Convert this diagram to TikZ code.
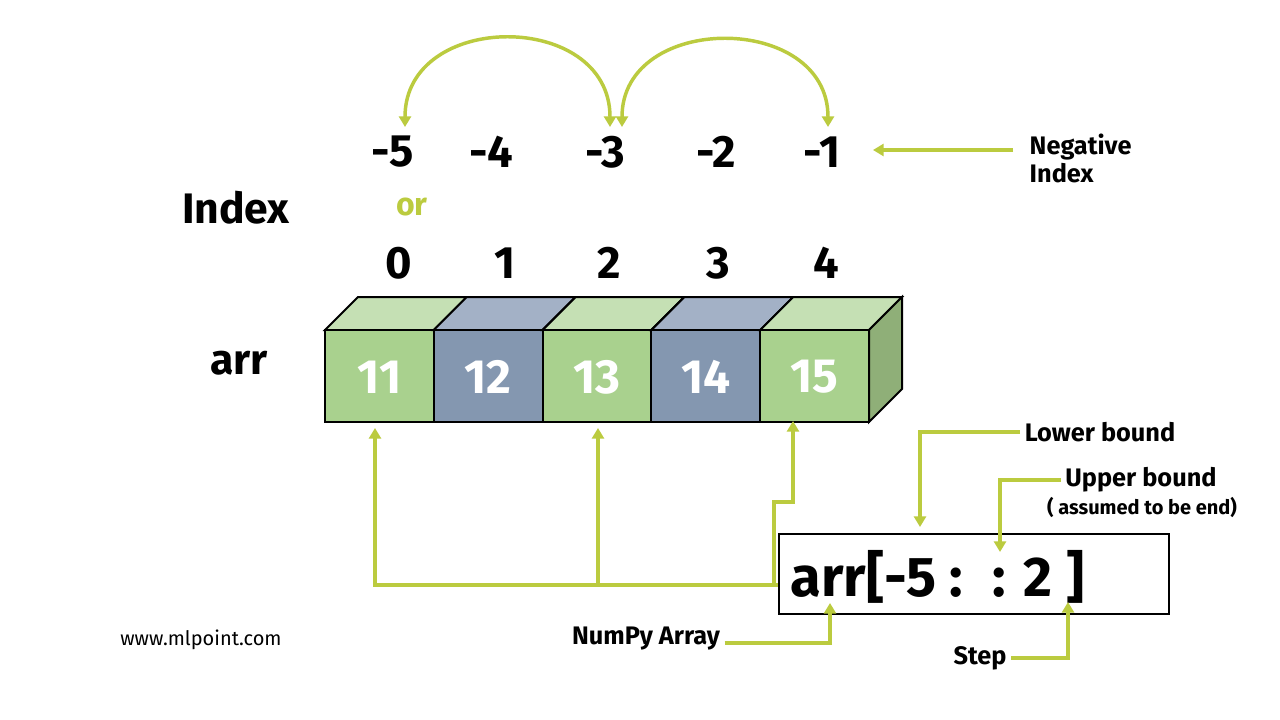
\documentclass[tikz,border=0pt]{standalone}
\usepackage{fontspec}
\setmainfont{Fira Sans}
\usetikzlibrary{arrows.meta}
\definecolor{ol}{HTML}{BBCB3F}
\definecolor{gf}{HTML}{A9D18E}
\definecolor{gt}{HTML}{C5E0B4}
\definecolor{gs}{HTML}{8FAF78}
\definecolor{bf}{HTML}{8497B0}
\definecolor{bt}{HTML}{A3B1C6}
\begin{document}
\begin{tikzpicture}[x=0.75pt,y=-0.75pt,
 conn/.style={draw=ol,line width=2.6pt,-{Triangle[length=8pt,width=9pt]}},
 big/.style={font=\bfseries\fontsize{34}{36}\selectfont},
 lab/.style={font=\bfseries\fontsize{19}{21}\selectfont}]
\fill[white] (0,0) rectangle (1280,720);
\useasboundingbox (0,0) rectangle (1280,720);
% cells
\foreach \i/\v/\f/\t in {0/11/gf/gt,1/12/bf/bt,2/13/gf/gt,3/14/bf/bt,4/15/gf/gt}{
 \pgfmathsetmacro\xa{325+108.8*\i}
 \pgfmathsetmacro\xb{325+108.8*(\i+1)}
 \filldraw[fill=\t,draw=black,line width=1.5pt] (\xa,330) -- (\xa+33,297) -- (\xb+33,297) -- (\xb,330) -- cycle;
 \filldraw[fill=\f,draw=black,line width=1.5pt] (\xa,330) rectangle (\xb,422);
 \node[text=white,font=\bfseries\fontsize{36}{38}\selectfont] (c\i) at ({(\xa+\xb)/2},377) {\v};
}
\filldraw[fill=gs,draw=black,line width=1.5pt] (869,330) -- (902,297) -- (902,389) -- (869,422) -- cycle;
% indexes
\foreach \x/\l [count=\k] in {393/-5,491/-4,605/-3,716/-2,822/-1}
 \node[big] (n\k) at (\x,152) {\l};
\foreach \x/\l in {399/0,505/1,609/2,718/3,826/4}
 \node[big] at (\x,263) {\l};
\node[text=ol,font=\bfseries\fontsize{24}{26}\selectfont] (or) at (412,207) {or};
\node[font=\bfseries\fontsize{32}{34}\selectfont] (idx) at (236,208) {Index};
\node[font=\bfseries\fontsize{32}{34}\selectfont] (arr) at (239,363) {arr};
% arcs
\draw[draw=ol,line width=2.6pt,{Triangle[length=8pt,width=9pt]}-{Triangle[length=8pt,width=9pt]}] (405,127) .. controls (405,10) and (610,10) .. (610,127);
\draw[draw=ol,line width=2.6pt,{Triangle[length=8pt,width=9pt]}-{Triangle[length=8pt,width=9pt]}] (622,127) .. controls (622,12) and (828,12) .. (828,127);
% negative index
\node[lab,align=left,anchor=west] (neg) at (1025,158) {Negative\\Index};
\draw[conn] (neg.west) ++(-12,-8) -- (873,150);
% slice box
\node[draw=black,line width=1.5pt,minimum width=390*0.75pt,minimum height=80*0.75pt,anchor=north west,inner sep=0] (box) at (778,533) {};
\node[font=\bfseries\fontsize{42}{44}\selectfont,anchor=west] (sl) at (786,577) {arr[-5 :\hspace{22pt}: 2 ]};
% arrows to cells
\draw[conn] (box.west |- 0,585) -- (375,585) -- (375,428);
\draw[conn] (598,585) -- (598,428);
\draw[conn] (774,585) -- (774,502) -- (793,502) -- (793,421);
% labels
\node[lab] (lb) at (1100,432) {Lower bound};
\draw[conn] (lb.west) -- (920,432) -- (920,527);
\node[lab] (ub) at (1141,480) {Upper bound};
\node[font=\bfseries\fontsize{15}{17}\selectfont] (ae) at (1142,507) {( assumed to be end)};
\draw[conn] (ub.west) -- (1000,480) -- (1000,552);
\node[lab] (st) at (980,658) {Step};
\draw[conn] (st.east) -- (1068,658) -- (1068,602);
\node[lab] (np) at (646,639) {NumPy Array};
\draw[conn] (np.east) ++(0,4) -- (830,643) -- (830,603);
\node[font=\fontsize{15}{17}\selectfont] (www) at (201,640) {www.mlpoint.com};
\end{tikzpicture}
\end{document}
